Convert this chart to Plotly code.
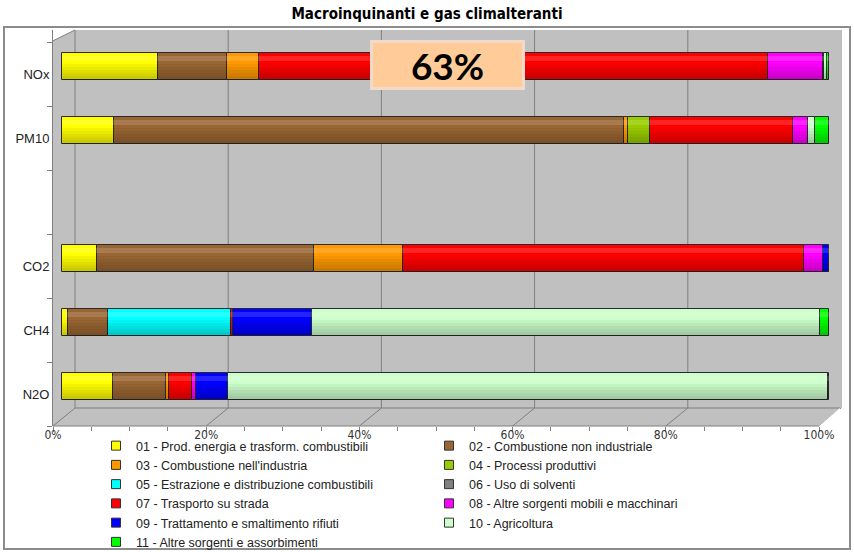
"""Macroinquinanti e gas climalteranti: 100% stacked horizontal bars by emission sector."""

import plotly.graph_objects as go

# figure geometry (px)
W, H = 854, 552
PLOT_L, PLOT_R, PLOT_T, PLOT_B = 53, 840, 30, 426
DEPTH_DX, DEPTH_DY = 22, 18          # fake 3D depth of the chart box
FRONT_MAX = 102.74                    # front (label) axis upper range
BAR_RANGE = [-1.17, 101.43]           # bars sit a bit deeper than the front axis
BAR_WIDTH, BAR_OFFSET = 0.42, -0.093

# bottom -> top; the blank slot is an empty pollutant row in the original chart
pollutants = ['N2O', 'CH4', 'CO2', ' ', 'PM10', 'NOx']

sectors = [
    '01 - Prod. energia e trasform. combustibili',
    '02 - Combustione non industriale',
    '03 - Combustione nell\'industria',
    '04 - Processi produttivi',
    '05 - Estrazione e distribuzione combustibili',
    '06 - Uso di solventi',
    '07 - Trasporto su strada',
    '08 - Altre sorgenti mobili e macchinari',
    '09 - Trattamento e smaltimento rifiuti',
    '10 - Agricoltura',
    '11 - Altre sorgenti e assorbimenti',
]
sector_colors = [
    '#FFFF00', '#996633', '#FF9900', '#99CC00', '#00FFFF', '#808080',
    '#FF0000', '#FF00FF', '#0000FF', '#CCFFCC', '#00FF00',
]

# shares in % (N2O, CH4, CO2, blank, PM10, NOx); None = no contribution
s01 = [6.6, 0.8, 4.6, None, 6.8, 12.5]
s02 = [7.0, 5.2, 28.2, None, 66.5, 9.0]
s03 = [0.3, None, 11.7, None, 0.5, 4.2]
s04 = [None, None, None, None, 2.9, None]
s05 = [None, 16.0, None, None, None, None]
s06 = [None, None, None, None, None, None]
s07 = [3.1, 0.3, 52.3, None, 18.6, 66.3]
s08 = [0.5, None, 2.4, None, 2.0, 7.2]
s09 = [4.2, 10.3, 0.8, None, None, 0.2]
s10 = [78.2, 66.2, None, None, 0.9, 0.3]
s11 = [0.1, 1.2, None, None, 1.8, 0.3]
shares = [s01, s02, s03, s04, s05, s06, s07, s08, s09, s10, s11]

highlight_text = '63%'


def px_x(x):
    return (x - PLOT_L) / (PLOT_R - PLOT_L)


def px_y(y):
    return (PLOT_B - y) / (PLOT_B - PLOT_T)


def front_px(v):
    return PLOT_L + v * (PLOT_R - PLOT_L) / FRONT_MAX


fig = go.Figure()

# stacked segments (explicit bases so shading bands can overlay them)
running = [0.0] * len(pollutants)
for name, color, vals in zip(sectors, sector_colors, shares):
    fig.add_trace(go.Bar(
        x=vals, y=pollutants, base=list(running), orientation='h', name=name,
        xaxis='x2', yaxis='y',
        width=BAR_WIDTH, offset=BAR_OFFSET,
        marker=dict(color=color, line=dict(color='#2a2a2a', width=1)),
        showlegend=False, hoverinfo='skip',
    ))
    running = [r + (v or 0) for r, v in zip(running, vals)]

# cylinder look: darker towards the bottom, soft highlight near the top
row_totals = [t or None for t in running]
for frac in (0.12, 0.24, 0.36, 0.48, 0.6):
    fig.add_trace(go.Bar(
        x=row_totals, y=pollutants, base=0, orientation='h', xaxis='x2', yaxis='y',
        width=BAR_WIDTH * frac, offset=BAR_OFFSET + 0.004,
        marker=dict(color='rgba(0,0,0,0.045)', line=dict(width=0)),
        showlegend=False, hoverinfo='skip',
    ))
fig.add_trace(go.Bar(
    x=row_totals, y=pollutants, base=0, orientation='h', xaxis='x2', yaxis='y',
    width=BAR_WIDTH * 0.16, offset=BAR_OFFSET + BAR_WIDTH * 0.72,
    marker=dict(color='rgba(255,255,255,0.14)', line=dict(width=0)),
    showlegend=False, hoverinfo='skip',
))

# legend proxies (small square swatches); they also anchor the front x axis
for name, color in zip(sectors, sector_colors):
    fig.add_trace(go.Scatter(
        x=[None], y=[None], mode='markers', name=name,
        xaxis='x', yaxis='y',
        marker=dict(symbol='square', size=9, color=color,
                    line=dict(color='#333333', width=1)),
        showlegend=True, hoverinfo='skip',
    ))

# fake 3D box: back wall grid, floor, cut corners
line_style = dict(color='#7f7f7f', width=1)
shapes = []
back_top, back_floor = PLOT_T, PLOT_B - DEPTH_DY
for v in range(0, 101, 20):
    fx = front_px(v)
    bx = fx + DEPTH_DX
    shapes.append(dict(type='line', xref='paper', yref='paper', layer='below',
                       x0=px_x(bx), x1=px_x(bx), y0=px_y(back_top), y1=px_y(back_floor),
                       line=line_style))
    shapes.append(dict(type='line', xref='paper', yref='paper', layer='below',
                       x0=px_x(bx), x1=px_x(fx), y0=px_y(back_floor), y1=px_y(PLOT_B),
                       line=line_style))
shapes += [
    dict(type='line', xref='paper', yref='paper', layer='below',
         x0=px_x(PLOT_L + DEPTH_DX), x1=px_x(PLOT_R), y0=px_y(back_floor), y1=px_y(back_floor),
         line=line_style),
    dict(type='line', xref='paper', yref='paper', layer='below',
         x0=px_x(PLOT_L), x1=px_x(front_px(100)), y0=0, y1=0, line=line_style),
    dict(type='path', xref='paper', yref='paper', layer='below',
         path=f'M{px_x(PLOT_L)},{px_y(PLOT_T)} L{px_x(PLOT_L + DEPTH_DX)},{px_y(PLOT_T)} '
              f'L{px_x(PLOT_L)},{px_y(PLOT_T + DEPTH_DY * 0.6)} Z',
         fillcolor='white', line=dict(width=0)),
    dict(type='line', xref='paper', yref='paper', layer='below',
         x0=px_x(PLOT_L), x1=px_x(PLOT_L + DEPTH_DX),
         y0=px_y(PLOT_T + DEPTH_DY * 0.6), y1=px_y(PLOT_T), line=line_style),
    dict(type='path', xref='paper', yref='paper', layer='below',
         path=f'M{px_x(PLOT_R)},{px_y(back_floor)} L{px_x(PLOT_R)},{px_y(PLOT_B)} '
              f'L{px_x(front_px(100))},{px_y(PLOT_B)} Z',
         fillcolor='white', line=dict(width=0)),
    # outer frame
    dict(type='rect', xref='paper', yref='paper', layer='above',
         x0=px_x(4), x1=px_x(850), y0=px_y(27), y1=px_y(549),
         line=dict(color='#8c8c8c', width=2)),
]

fig.update_layout(
    width=W, height=H,
    margin=dict(l=PLOT_L, r=W - PLOT_R, t=PLOT_T, b=H - PLOT_B, autoexpand=False),
    paper_bgcolor='white',
    plot_bgcolor='#C0C0C0',
    barmode='overlay',
    bargap=0,
    font=dict(family='Liberation Sans, Arial, sans-serif', size=13, color='#222222'),
    title=dict(
        text='<b>Macroinquinanti e gas climalteranti</b>',
        x=0.5, xref='container', xanchor='center',
        y=1 - 14 / H, yref='container', yanchor='middle',
        font=dict(family='Liberation Sans Narrow, Arial Narrow, DejaVu Sans Condensed, sans-serif',
                  size=15, color='black'),
    ),
    xaxis=dict(
        range=[0, FRONT_MAX], dtick=20, tick0=0, ticksuffix='%',
        ticks='outside', ticklen=5, tickcolor='#7f7f7f',
        minor=dict(dtick=5, ticks='outside', ticklen=4, tickcolor='#7f7f7f'),
        showgrid=False, zeroline=False, showline=False,
        ticklabelstandoff=-7,
        tickfont=dict(family='Liberation Sans Narrow, Arial Narrow, DejaVu Sans Condensed, sans-serif',
                      size=12, color='#333333'),
        fixedrange=True,
    ),
    xaxis2=dict(range=BAR_RANGE, overlaying='x', visible=False, fixedrange=True),
    yaxis=dict(
        type='category', categoryorder='array', categoryarray=pollutants,
        range=[-0.5, -0.5 + (PLOT_B - PLOT_T) / 64],
        tickson='boundaries', ticks='outside', ticklen=5, tickcolor='#7f7f7f',
        showline=True, linecolor='#7f7f7f', linewidth=1,
        showgrid=False, zeroline=False,
        tickfont=dict(size=13, color='#222222'),
        fixedrange=True,
    ),
    legend=dict(
        orientation='h', traceorder='normal',
        x=px_x(96), xanchor='left',
        y=px_y(431), yanchor='top',
        entrywidth=288, entrywidthmode='pixels',
        itemwidth=30, bgcolor='rgba(0,0,0,0)',
        font=dict(size=12.5, color='#222222'),
    ),
    shapes=shapes,
    annotations=[dict(
        text=f'<b>{highlight_text}</b>',
        xref='paper', yref='paper', x=px_x(447.5), y=px_y(65),
        xanchor='center', yanchor='middle', showarrow=False,
        font=dict(family='Lato, Open Sans, sans-serif', size=37, color='black'),
        bgcolor='#FFCC99', bordercolor='#F2DACB', borderwidth=3, borderpad=2,
        width=145, height=40,
    )],
    showlegend=True,
)

# the page body has a default 8px margin; drop it so the chart fills the window
fig.write_html('out.html', config={'displayModeBar': False},
               post_script="document.body.style.margin = '0';")
